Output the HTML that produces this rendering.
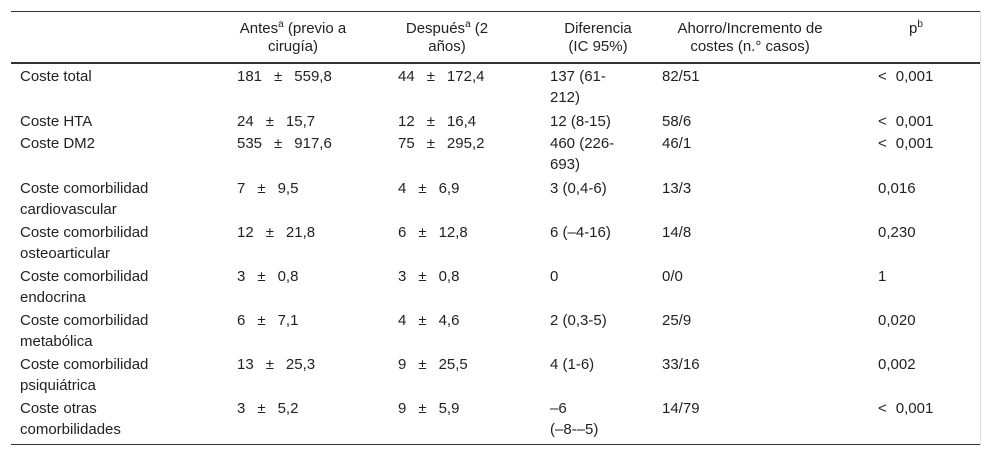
<!DOCTYPE html>
<html><head><meta charset="utf-8"><style>
body{margin:0;width:992px;height:458px;background:#fff;font-family:"Liberation Sans",Arial,sans-serif;font-size:15px;color:#222;position:relative;overflow:hidden}
.t{position:absolute;white-space:nowrap;line-height:21px}
.h{position:absolute;text-align:center;line-height:18px;white-space:nowrap}
.line{position:absolute;left:11px;width:969px;background:#333}
sup{font-size:10px;line-height:0}
.g{display:inline-block;width:12px}
</style></head><body>
<div class="line" style="top:11px;height:1px"></div>
<div class="line" style="top:62px;height:2px"></div>
<div class="line" style="top:444px;height:1px"></div>
<div style="position:absolute;left:980px;top:11px;width:1px;height:434px;background:#ddd"></div>

<div class="h" style="left:213px;width:160px;top:20px">Antes<sup>a</sup> (previo a<br>cirugía)</div>
<div class="h" style="left:377px;width:140px;top:20px">Después<sup>a</sup> (2<br>años)</div>
<div class="h" style="left:538px;width:120px;top:20px">Diferencia<br>(IC 95%)</div>
<div class="h" style="left:650px;width:200px;top:20px">Ahorro/Incremento de<br>costes (n.° casos)</div>
<div class="h" style="left:896px;width:40px;top:20px">p<sup>b</sup></div>

<div id="rows"></div>
<script>
var labels=[["Coste total"],["Coste HTA"],["Coste DM2"],["Coste comorbilidad","cardiovascular"],["Coste comorbilidad","osteoarticular"],["Coste comorbilidad","endocrina"],["Coste comorbilidad","metabólica"],["Coste comorbilidad","psiquiátrica"],["Coste otras","comorbilidades"]];
var antes=[["181","559,8"],["24","15,7"],["535","917,6"],["7","9,5"],["12","21,8"],["3","0,8"],["6","7,1"],["13","25,3"],["3","5,2"]];
var despues=[["44","172,4"],["12","16,4"],["75","295,2"],["4","6,9"],["6","12,8"],["3","0,8"],["4","4,6"],["9","25,5"],["9","5,9"]];
var dif=[["137 (61-","212)"],["12 (8-15)"],["460 (226-","693)"],["3 (0,4-6)"],["6 (\u20134-16)"],["0"],["2 (0,3-5)"],["4 (1-6)"],["\u20136","(\u20138-\u20135)"]];
var ahorro=["82/51","58/6","46/1","13/3","14/8","0/0","25/9","33/16","14/79"];
var pval=[["<","0,001"],["<","0,001"],["<","0,001"],["","0,016"],["","0,230"],["","1"],["","0,020"],["","0,002"],["<","0,001"]];
var tops=[66,111,133,178,222,266,310,354,398];
var root=document.getElementById('rows');
function add(x,y,html,name){var d=document.createElement('div');d.className='t';d.style.left=x+'px';d.style.top=y+'px';d.innerHTML=html;


root.appendChild(d);}
for(var i=0;i<labels.length;i++){var y=tops[i];
add(20,y,labels[i].join('<br>'),'row-label');
add(237,y,antes[i][0]+'<span class="g"></span>±<span class="g"></span>'+antes[i][1],'antes-value');
add(398,y,despues[i][0]+'<span class="g"></span>±<span class="g"></span>'+despues[i][1],'despues-value');
add(550,y,dif[i].join('<br>'),'diferencia-value');
add(662,y,ahorro[i],'ahorro-value');
add(878,y,pval[i][0]?pval[i][0]+'<span class="g" style="width:9px"></span>'+pval[i][1]:pval[i][1],'p-value');}
</script>
</body></html>
